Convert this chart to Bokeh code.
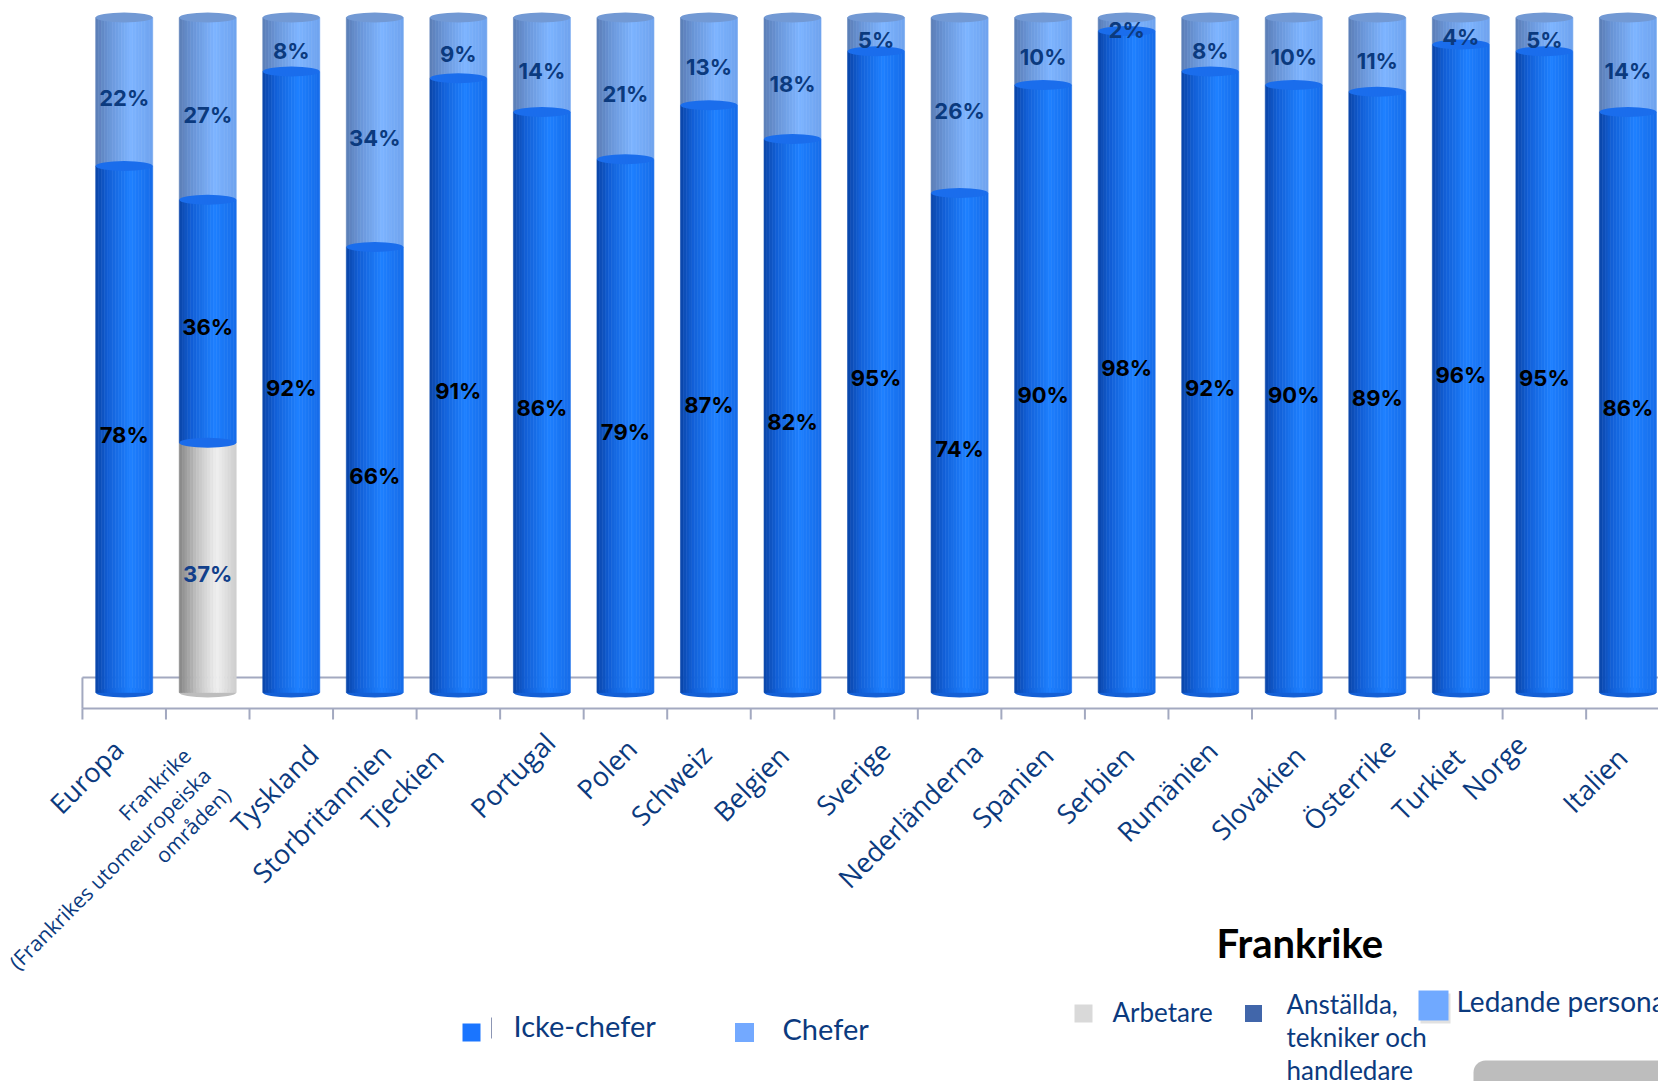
import numpy as np
from bokeh.plotting import figure
from bokeh.models import Range1d, ColumnDataSource, BoxAnnotation
from bokeh.core.properties import value
from bokeh.embed import file_html
from bokeh.resources import INLINE

# ---------------- data ----------------
countries = ["Europa", "Frankrike\n(Frankrikes utomeuropeiska\nområden)", "Tyskland",
             "Storbritannien", "Tjeckien", "Portugal", "Polen", "Schweiz", "Belgien",
             "Sverige", "Nederländerna", "Spanien", "Serbien", "Rumänien", "Slovakien",
             "Österrike", "Turkiet", "Norge", "Italien"]
icke_chefer = [78, 36, 92, 66, 91, 86, 79, 87, 82, 95, 74, 90, 98, 92, 90, 89, 96, 95, 86]
chefer = [22, 27, 8, 34, 9, 14, 21, 13, 18, 5, 26, 10, 2, 8, 10, 11, 4, 5, 14]
arbetare = [0, 37, 0, 0, 0, 0, 0, 0, 0, 0, 0, 0, 0, 0, 0, 0, 0, 0, 0]
legend_main = ["Icke-chefer", "Chefer"]
legend_fr_title = "Frankrike"
legend_fr = ["Arbetare", "Anställda,\ntekniker och\nhandledare", "Ledande personal"]

# ---------------- layout (pixels) ----------------
W, H = 1658, 1081
X0, DXP = 123.7, 83.54     # pixel of first category centre, pixel spacing
Y0, DYP = 692.0, 6.75      # pixel of 0 %, pixels per %

def px2x(px):
    return (px - X0) / DXP

def py2y(py):
    return (Y0 - py) / DYP

# right-middle anchor of each rotated category label (pixel offset from category centre / absolute y)
label_dx_px = [-6, -1, 22, 11, -20, 8, 6, -3, -9, 9, 18, 5, 2, 2, 6, 13, -2, -23, -6]
label_y_px = [744, 771, 749, 748, 752, 737, 743, 749, 750, 745, 747, 750, 750, 745, 750, 742, 752, 739, 752]

NAVY = "#0B3A7E"
BAR_W = 57 / DXP

p = figure(width=W, height=H, output_backend="svg", toolbar_location=None,
           x_range=Range1d(px2x(0), px2x(W)), y_range=Range1d(py2y(H), py2y(0)),
           min_border=0, outline_line_color=None, background_fill_color="white",
           border_fill_color="white")
p.xaxis.visible = False
p.yaxis.visible = False
p.grid.visible = False

n = len(countries)
xs = np.arange(n, dtype=float)
arb = np.array(arbetare, dtype=float)
ick = np.array(icke_chefer, dtype=float)
che = np.array(chefer, dtype=float)

# ---------------- floor ----------------
fl_left = -0.5
p.segment(x0=[fl_left, fl_left, fl_left], y0=[py2y(677), py2y(708), py2y(677)],
          x1=[px2x(W + 20), px2x(W + 20), fl_left], y1=[py2y(677), py2y(708), py2y(708)],
          line_color="#A3A9C0", line_width=2)
ticks = np.arange(n + 1) - 0.5
p.segment(x0=ticks, y0=[py2y(708)] * len(ticks), x1=ticks, y1=[py2y(719)] * len(ticks),
          line_color="#A3A9C0", line_width=2)

# ---------------- cylinders ----------------
def hex2rgb(h):
    h = h.lstrip("#")
    return np.array([int(h[i:i + 2], 16) for i in (0, 2, 4)], dtype=float)

def profile_color(stops, t):
    for (t0, c0), (t1, c1) in zip(stops[:-1], stops[1:]):
        if t0 <= t <= t1:
            f = (t - t0) / (t1 - t0)
            c = hex2rgb(c0) * (1 - f) + hex2rgb(c1) * f
            return "#%02x%02x%02x" % tuple(int(round(v)) for v in c)
    return stops[-1][1]

blue_stops = [(0, "#0A45A8"), (0.22, "#125FD6"), (0.62, "#1E80FF"), (1.0, "#176CE8")]
light_stops = [(0, "#5B7DB6"), (0.25, "#6A96D8"), (0.62, "#7DB4FF"), (1.0, "#6FA3EE")]
grey_stops = [(0, "#858585"), (0.3, "#C0C0C0"), (0.66, "#F0F0F0"), (1.0, "#CDCDCD")]

NS = 20
sw = BAR_W / NS

# bottom ellipses (visible lower half)
bottom_col = ["#BDBDBD" if a > 0 else "#1460D6" for a in arb]
p.ellipse(x=xs, y=np.zeros(n), width=BAR_W, height=10, height_units="screen",
          fill_color=bottom_col, line_color=None)

def draw_segment(mask, bottoms, tops, stops):
    idx = np.where(mask)[0]
    if len(idx) == 0:
        return
    for j in range(NS):
        t = (j + 0.5) / NS
        off = -BAR_W / 2 + (j + 0.5) * sw
        src = ColumnDataSource(dict(x=xs[idx] + off, b=bottoms[idx], t=tops[idx]))
        col = profile_color(stops, t)
        p.vbar(x="x", bottom="b", top="t", width=sw, source=src,
               fill_color=col, line_color=col, line_width=0.6)

draw_segment(arb > 0, np.zeros(n), arb, grey_stops)
draw_segment(ick > 0, arb, arb + ick, blue_stops)
draw_segment(che > 0, arb + ick, arb + ick + che, light_stops)

# caps
fr = np.where(arb > 0)[0]
p.ellipse(x=xs[fr], y=arb[fr], width=BAR_W, height=10, height_units="screen",
          fill_color="#1A6BEA", line_color=None)
p.ellipse(x=xs, y=arb + ick, width=BAR_W, height=10, height_units="screen",
          fill_color="#1A6DEC", line_color=None)
p.ellipse(x=xs, y=arb + ick + che, width=BAR_W, height=10, height_units="screen",
          fill_color="#7299D4", line_color=None)

# ---------------- value labels ----------------
pct_font = value("Inter")
p.text(x=xs, y=arb + ick + che / 2, text=[f"{v}%" for v in chefer],
       text_font=pct_font, text_font_style="bold", text_font_size="22px",
       text_color=NAVY, text_align="center", text_baseline="middle", y_offset=6)
p.text(x=xs, y=arb + ick / 2, text=[f"{v}%" for v in icke_chefer],
       text_font=pct_font, text_font_style="bold", text_font_size="22px",
       text_color="black", text_align="center", text_baseline="middle", y_offset=6)
p.text(x=xs[fr], y=arb[fr] / 2, text=[f"{int(arb[i])}%" for i in fr],
       text_font=pct_font, text_font_style="bold", text_font_size="22px",
       text_color="#123F8A", text_align="center", text_baseline="middle", y_offset=6)

# ---------------- category labels ----------------
ang = np.pi / 4
reg = [i for i in range(n) if "\n" not in countries[i]]
multi = [i for i in range(n) if "\n" in countries[i]]
p.text(x=[xs[i] + label_dx_px[i] / DXP for i in reg], y=[py2y(label_y_px[i]) for i in reg],
       text=[countries[i] for i in reg], angle=ang, text_font=value("Open Sans"),
       text_font_size="27px", text_color=NAVY, text_align="right", text_baseline="middle")
p.text(x=[xs[i] + label_dx_px[i] / DXP for i in multi], y=[py2y(label_y_px[i]) for i in multi],
       text=[countries[i] for i in multi], angle=ang, text_font=value("Open Sans"),
       text_font_size="21px", text_color=NAVY, text_align="right", text_baseline="middle",
       text_line_height=1.0)

# ---------------- legend (main) ----------------
p.rect(x=[px2x(471), px2x(744)], y=[py2y(1032), py2y(1032)], width=[18, 19], height=[18, 19],
       width_units="screen", height_units="screen",
       fill_color=["#1A75FF", "#73A9FF"], line_color=None)
p.segment(x0=[px2x(491)], y0=[py2y(1017)], x1=[px2x(491)], y1=[py2y(1038)],
          line_color="#8C96B4", line_width=1)
p.text(x=[px2x(513), px2x(782)], y=[py2y(1025), py2y(1028)], text=legend_main,
       text_font=value("Lato"), text_font_size="29px", text_color=NAVY,
       text_align="left", text_baseline="alphabetic")

# ---------------- legend (Frankrike) ----------------
p.text(x=[px2x(1216)], y=[py2y(942)], text=[legend_fr_title], text_font=value("Lato"),
       text_font_style="bold", text_font_size="40px", text_color="black",
       text_align="left", text_baseline="alphabetic")
p.rect(x=[px2x(1435)], y=[py2y(1008)], width=30, height=30, width_units="screen",
       height_units="screen", fill_color="#9A9A9A", fill_alpha=0.3, line_color=None)
p.rect(x=[px2x(1083), px2x(1253), px2x(1433)], y=[py2y(1013), py2y(1013), py2y(1005)],
       width=[18, 17, 30], height=[18, 17, 30], width_units="screen", height_units="screen",
       fill_color=["#D9D9D9", "#4166AA", "#70A9FF"], line_color=None)
p.text(x=[px2x(1112)], y=[py2y(1011)], text=[legend_fr[0]], text_font=value("Lato"),
       text_font_size="26px", text_color=NAVY, text_align="left", text_baseline="alphabetic")
p.text(x=[px2x(1286)], y=[py2y(987)], text=[legend_fr[1]], text_font=value("Lato"),
       text_font_size="26px", text_color=NAVY, text_align="left", text_baseline="top",
       text_line_height=1.04)
p.text(x=[px2x(1456)], y=[py2y(1000)], text=[legend_fr[2]], text_font=value("Lato"),
       text_font_size="28px", text_color=NAVY, text_align="left", text_baseline="alphabetic")

p.add_layout(BoxAnnotation(left=px2x(1473), right=px2x(W + 40), top=py2y(1060),
                           bottom=py2y(H + 40), fill_color="#BDBDBD", fill_alpha=1.0,
                           line_color=None, border_radius=12))

open("out.html", "w").write(file_html(p, INLINE))
